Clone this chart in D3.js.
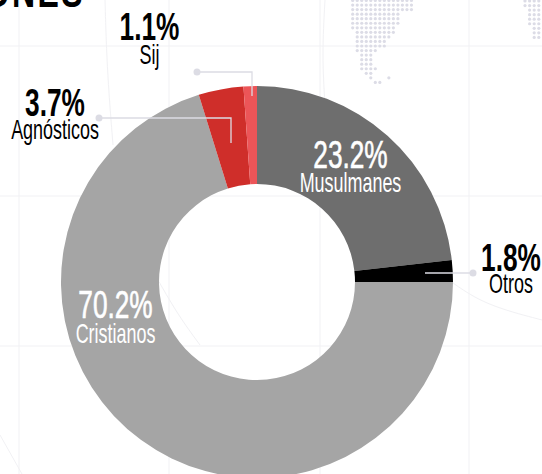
<!DOCTYPE html>
<html><head><meta charset="utf-8">
<script src="https://cdn.jsdelivr.net/npm/d3@7"></script>
<style>html,body{margin:0;padding:0;background:#fff}svg{display:block}</style>
</head><body><div id="c"></div>
<script>
const categories=["Musulmanes","Otros","Cristianos","Agnósticos","Sij"];
const values=[23.2,1.8,70.2,3.7,1.1];
const colors=["#6e6e6e","#000000","#a5a5a5","#cf2e2a","#ec5558"];
const labelText=["23.2%","1.8%","70.2%","3.7%","1.1%"];
const W=542,H=474;
const svg=d3.select("#c").append("svg").attr("width",W).attr("height",H);
const gridX=[19,169,320,469],gridY=[46,196,346];
const curves=[[[105,0],[107,70],[113,145]],[[325,0],[322,55],[325,105]],[[453,283],[485,305],[542,320]],[[0,435],[22,474]],[[158,280],[178,315],[200,345]]];
const bg=svg.append("g").attr("stroke","#f1f1f4").attr("fill","none");
gridX.forEach(x=>bg.append("line").attr("x1",x).attr("x2",x).attr("y1",0).attr("y2",H));
gridY.forEach(y=>bg.append("line").attr("x1",0).attr("x2",W).attr("y1",y).attr("y2",y));
const curveLine=d3.line().curve(d3.curveBasis);
curves.forEach(c=>bg.append("path").attr("d",curveLine(c)));
// dotted map: [firstCol,lastCol] per row
const mapRows=[[0,13],[0,13],[0,13],[0,10],[0,10],[0,10],[0,9],[1,9],[1,8],[1,7],[1,7],[1,5],[2,4],[2,4],[2,4],[2,5],[3,4],[4,4],[5,6]];
const maps=svg.append("g").attr("fill","#dcdce6");
const dot=(x,y)=>maps.append("circle").attr("cx",x).attr("cy",y).attr("r",1.6);
mapRows.forEach((r,j)=>{for(let i=r[0];i<=r[1];i++)dot(352.7+i*4.52,0.5+j*4.55);});
dot(352.7+8*4.52,0.5+17*4.55);
const mapRows2=[0,0,1,1,1,1,2,2,2];
mapRows2.forEach((s,j)=>{for(let i=s;i<=3;i++)dot(525+i*4.6,1+j*4.55);});

svg.append("text").attr("transform","translate(85,7) scale(.8,1.1)").attr("text-anchor","end")
 .attr("font-family","'Liberation Sans Narrow','Liberation Sans'").attr("font-weight","700").attr("font-size",40).attr("letter-spacing",3).attr("fill","#000").text("IONES");

const cx=257,cy=282;
const pie=d3.pie().sort(null).value(d=>d);
const arc=d3.arc().innerRadius(98).outerRadius(196);
svg.append("g").attr("transform",`translate(${cx},${cy})`).selectAll("path").data(pie(values)).join("path")
 .attr("d",arc).attr("fill",(d,i)=>colors[i]);

const leaders=[[[197,72],[252,72],[252,96]],[[99,118],[231,118],[231,143]],[[473,273],[425,273]]];
const lg=svg.append("g");
leaders.forEach(p=>{
 lg.append("path").attr("d",d3.line()(p)).attr("fill","none").attr("stroke","#dcdce4").attr("stroke-width",1.3);
 lg.append("circle").attr("cx",p[0][0]).attr("cy",p[0][1]).attr("r",3.5).attr("fill","#dcdce4");
});

function label(x,y,dy,pct,name,fill,w,sw){
 const f="'Liberation Sans Narrow','Liberation Sans'";
 svg.append("text").attr("transform",`translate(${x},${y}) scale(.75,1.1)`).attr("text-anchor","middle").attr("font-family",f).attr("font-weight",w).attr("font-size",35).attr("fill",fill).attr("stroke",fill).attr("stroke-width",sw).text(pct);
 svg.append("text").attr("transform",`translate(${x},${y+dy}) scale(.69,1.08)`).attr("text-anchor","middle").attr("font-family",f).attr("font-size",26).attr("fill",fill).text(name);
}
label(350.5,168,24,labelText[0],categories[0],"#fff",400,0.6);
label(511,271,22,labelText[1],categories[1],"#000",700,0);
label(115.5,318,25,labelText[2],categories[2],"#fff",400,0.6);
label(55,116,23,labelText[3],categories[3],"#000",700,0);
label(149.5,40,24,labelText[4],categories[4],"#000",700,0);
</script></body></html>
